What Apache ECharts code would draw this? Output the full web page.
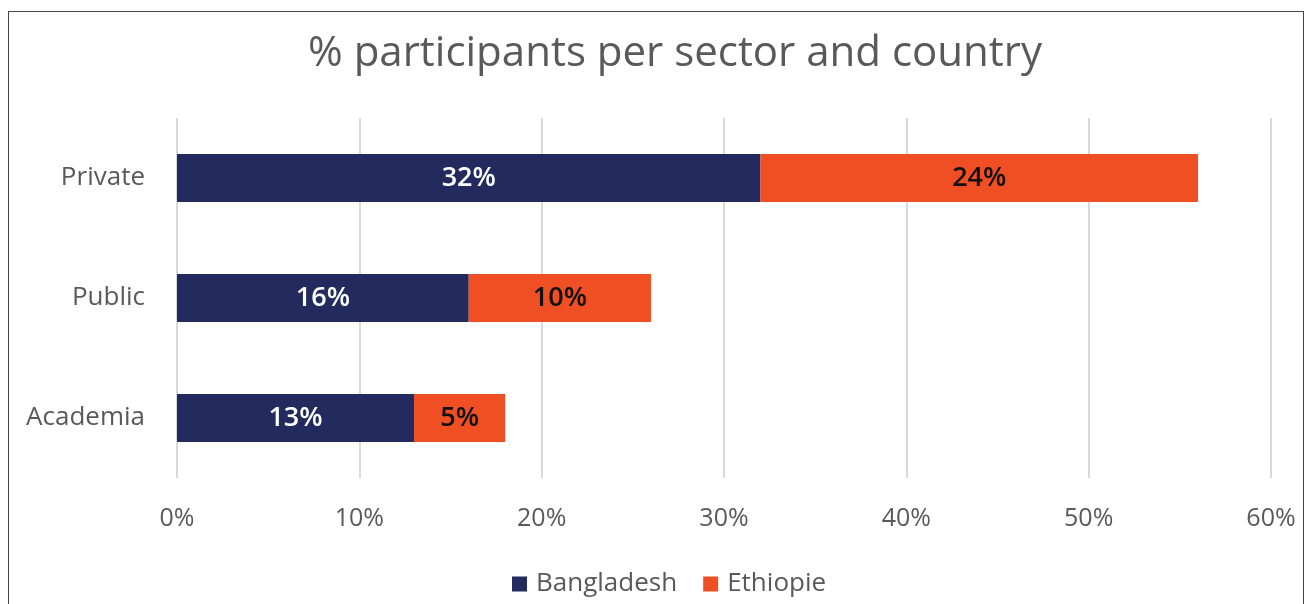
<!DOCTYPE html>
<html>
<head>
<meta charset="utf-8">
<script src="https://cdn.jsdelivr.net/npm/echarts@6/dist/echarts.min.js"></script>
<style>
  html, body { margin: 0; padding: 0; background: #fff; }
  #frame { position: absolute; left: 8px; top: 11px; width: 1296px; height: 600px; border: 1px solid #444; border-bottom: none; box-sizing: border-box; }
  #main { position: absolute; left: 0; top: 0; width: 1309px; height: 604px; }
</style>
</head>
<body>
<div id="frame"></div>
<div id="main"></div>
<script>
var sectors = ['Private', 'Public', 'Academia'];
var bangladesh = [32, 16, 13];
var ethiopie = [24, 10, 5];
var xTicks = [0, 10, 20, 30, 40, 50, 60];

var myChart = echarts.init(document.getElementById('main'));
var font = '"Open Sans", sans-serif';
var option = {
    title: {
        text: '% participants per sector and country',
        left: 303,
        top: 28,
        textStyle: { fontSize: 42, color: '#595959', fontWeight: 'normal', fontFamily: font }
    },
    legend: {
        bottom: 2,
        left: 507,
        itemWidth: 15,
        itemHeight: 15,
        itemGap: 26,
        icon: 'rect',
        textStyle: { fontSize: 26, color: '#595959', fontFamily: font, padding: [0, 0, 0, 4] }
    },
    grid: { left: 177, right: 38, top: 118, bottom: 126 },
    xAxis: {
        type: 'value',
        min: xTicks[0],
        max: xTicks[xTicks.length - 1],
        interval: 10,
        axisLine: { show: false },
        axisTick: { show: false },
        splitLine: { lineStyle: { color: '#D9D9D9', width: 2 } },
        axisLabel: {
            margin: 28,
            fontSize: 25,
            color: '#595959',
            fontFamily: font,
            formatter: '{value}%'
        }
    },
    yAxis: {
        type: 'category',
        data: sectors,
        inverse: true,
        axisLine: { show: false },
        axisTick: { show: false },
        axisLabel: { margin: 32, fontSize: 26, color: '#595959', fontFamily: font }
    },
    series: [
        {
            name: 'Bangladesh',
            type: 'bar',
            stack: 'total',
            barWidth: 48,
            data: bangladesh,
            itemStyle: { color: '#232A5E' },
            label: {
                show: true,
                position: 'inside',
                formatter: '{c}%',
                color: '#fff',
                fontSize: 27,
                fontWeight: 600,
                fontFamily: font
            }
        },
        {
            name: 'Ethiopie',
            type: 'bar',
            stack: 'total',
            barWidth: 48,
            data: ethiopie,
            itemStyle: { color: '#F04E23' },
            label: {
                show: true,
                position: 'inside',
                formatter: '{c}%',
                color: '#111',
                fontSize: 27,
                fontWeight: 600,
                fontFamily: font
            }
        }
    ]
};
myChart.setOption(option);
</script>
</body>
</html>
